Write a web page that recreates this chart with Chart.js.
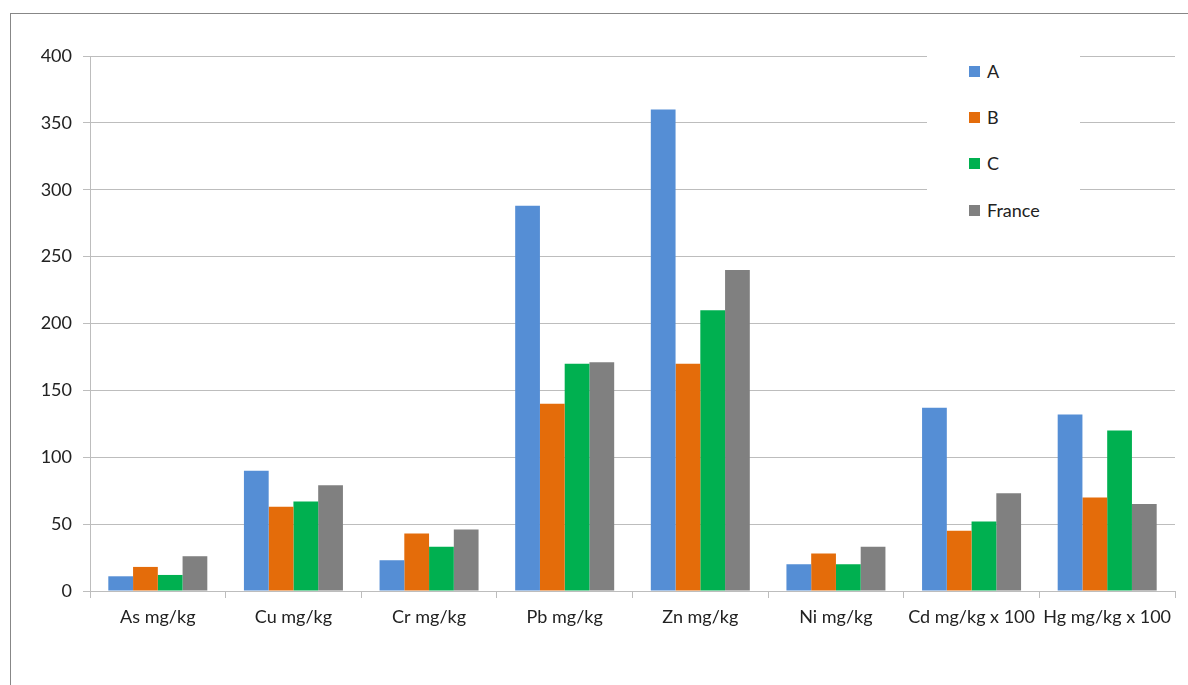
<!DOCTYPE html>
<html>
<head>
<meta charset="utf-8">
<script src="https://cdn.jsdelivr.net/npm/chart.js@4/dist/chart.umd.min.js"></script>
<style>
  html, body { margin: 0; padding: 0; background: #fff; overflow: hidden; }
  #wrap { position: relative; width: 1188px; height: 685px; }
  #frame { position: absolute; left: 10px; top: 13px; width: 1200px; height: 700px;
           border-top: 1px solid #878787; border-left: 1px solid #878787; }
  #chart { position: absolute; left: 0; top: 0; }
  #legend { position: absolute; left: 927px; top: 42px; width: 153px; height: 196px;
            background: #fff; font-family: Lato, sans-serif; font-size: 18px; color: #222; }
  .item { position: absolute; left: 42px; height: 20px; display: flex; align-items: center; }
  .sw { width: 11px; height: 11px; margin-right: 7px; }
</style>
</head>
<body>
<div id="wrap">
  <div id="frame"></div>
  <canvas id="chart" width="1188" height="685"></canvas>
  <div id="legend"></div>
</div>
<script>
// Soil metal concentrations by site, compared with the French reference
const categories = ['As mg/kg', 'Cu mg/kg', 'Cr mg/kg', 'Pb mg/kg', 'Zn mg/kg', 'Ni mg/kg', 'Cd mg/kg x 100', 'Hg mg/kg x 100'];
const seriesNames = ['A', 'B', 'C', 'France'];
const valuesA = [11, 90, 23, 288, 360, 20, 137, 132];
const valuesB = [18, 63, 43, 140, 170, 28, 45, 70];
const valuesC = [12, 67, 33, 170, 210, 20, 52, 120];
const valuesFrance = [26, 79, 46, 171, 240, 33, 73, 65];
const yTicks = [0, 50, 100, 150, 200, 250, 300, 350, 400];

const colors = ['#558ed5', '#e46c0a', '#00b050', '#808080'];
const seriesValues = [valuesA, valuesB, valuesC, valuesFrance];

const FONT = { family: 'Lato, sans-serif', size: 18 };
const TEXT = '#222';
const GRID = '#bdbdbd';

new Chart(document.getElementById('chart'), {
  type: 'bar',
  data: {
    labels: categories,
    datasets: seriesNames.map((name, i) => ({
      label: name,
      data: seriesValues[i],
      backgroundColor: colors[i],
      borderWidth: 0,
      categoryPercentage: 0.73,
      barPercentage: 1.0
    }))
  },
  options: {
    responsive: false,
    animation: false,
    layout: { padding: { left: 0, right: 13, top: 56, bottom: 0 } },
    plugins: { legend: { display: false }, tooltip: { enabled: false } },
    scales: {
      x: {
        offset: true,
        grid: { display: true, drawOnChartArea: false, drawTicks: true, tickLength: 7, color: GRID, offset: true },
        border: { display: true, color: GRID },
        ticks: { font: FONT, color: TEXT, padding: 8, maxRotation: 0, autoSkip: false },
        afterFit: s => { s.height = 94; }
      },
      y: {
        min: 0, max: 400,
        afterBuildTicks: s => { s.ticks = yTicks.map(v => ({ value: v })); },
        grid: { color: GRID, tickLength: 7 },
        border: { display: true, color: GRID },
        ticks: { font: FONT, color: TEXT, padding: 11 },
        afterFit: s => { s.width = 90; }
      }
    }
  }
});

// Legend drawn as HTML over the plot area
const legend = document.getElementById('legend');
const rowCenters = [29, 75, 121, 168];
seriesNames.forEach((name, i) => {
  const it = document.createElement('div');
  it.className = 'item';
  it.style.top = (rowCenters[i] - 10) + 'px';
  const sw = document.createElement('span');
  sw.className = 'sw';
  sw.style.background = colors[i];
  const tx = document.createElement('span');
  tx.textContent = name;
  it.appendChild(sw); it.appendChild(tx);
  legend.appendChild(it);
});
</script>
</body>
</html>
